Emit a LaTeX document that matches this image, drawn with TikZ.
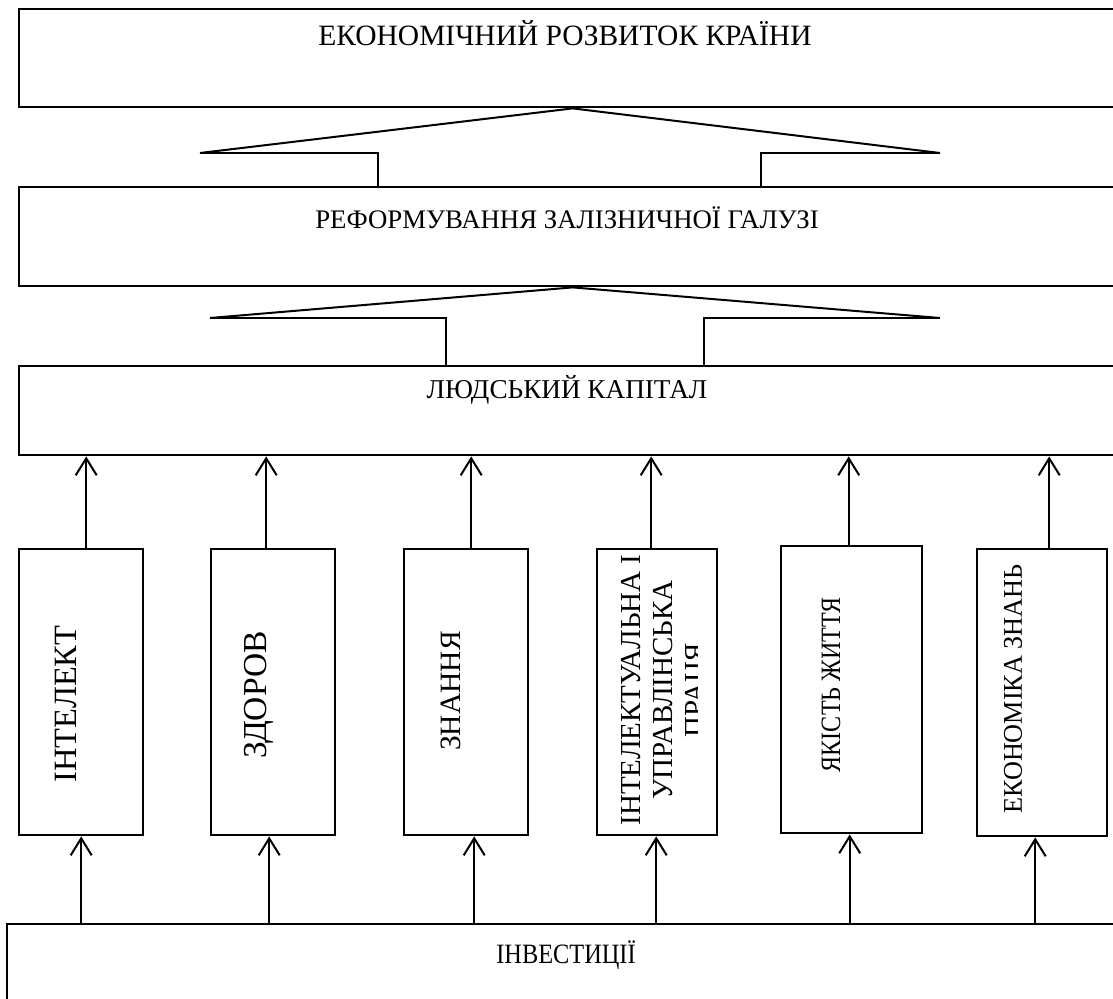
\documentclass[tikz,border=0pt]{standalone}
\usepackage{fontspec}
\usepackage{graphicx}
\setmainfont{Liberation Serif}
\usetikzlibrary{arrows.meta}
\newcommand{\fs}[1]{\fontsize{#1}{31}\selectfont}
\begin{document}
\begin{tikzpicture}[x=1pt,y=-1pt,
 box/.style={draw,line width=2.4pt,rectangle,inner sep=0pt,anchor=north west},
 lbl/.style={font=\fs{24},inner sep=0pt},
 vlbl/.style={lbl,rotate=90},
 conn/.style={line width=2pt},
 arr/.style={line width=2pt,-{Straight Barb[length=17pt,width=21pt,line width=2pt]}}]
\useasboundingbox (0,0) rectangle (1113,998);
\clip (0,0) rectangle (1113,998);
% boxes
\node[box,minimum width=1107pt,minimum height=98pt] (eco) at (18,8) {};
\node[box,minimum width=1107pt,minimum height=99pt] (ref) at (18,186) {};
\node[box,minimum width=1107pt,minimum height=89pt] (hc) at (18,365) {};
\node[box,minimum width=124pt,minimum height=286pt] (c1) at (18,548) {};
\node[box,minimum width=124pt,minimum height=286pt] (c2) at (210,548) {};
\node[box,minimum width=124pt,minimum height=286pt] (c3) at (403,548) {};
\node[box,minimum width=120pt,minimum height=286pt] (c4) at (596,548) {};
\node[box,minimum width=141pt,minimum height=287pt] (c5) at (780,545) {};
\node[box,minimum width=130pt,minimum height=287pt] (c6) at (976,548) {};
\node[box,minimum width=1120pt,minimum height=90pt] (inv) at (6,923) {};
% labels
\node[lbl,font=\fs{29.5}] (ecot) at (565,33) {ЕКОНОМІЧНИЙ РОЗВИТОК КРАЇНИ};
\node[lbl,font=\fs{26.8}] (reft) at (567,218) {РЕФОРМУВАННЯ ЗАЛІЗНИЧНОЇ ГАЛУЗІ};
\node[lbl,font=\fs{27.2}] (hct) at (567,390) {ЛЮДСЬКИЙ КАПІТАЛ};
\node[lbl,font=\fs{28}] (invt) at (566,955) {\scalebox{0.87}[1]{ІНВЕСТИЦІЇ}};
\node[vlbl,font=\fs{32.5}] (c1t) at (66,704) {ІНТЕЛЕКТ};
\node[vlbl,font=\fs{33.5}] (c2t) at (259,695) {ЗДОРОВ};
\node[vlbl,font=\fs{29.5}] (c3t) at (451,691) {ЗНАННЯ};
\begin{scope}
\clip (596,548) rectangle (697,834);
\node[vlbl,font=\fontsize{29}{32}\selectfont,align=center] (c4t) at (666,690) {ІНТЕЛЕКТУАЛЬНА І\\УПРАВЛІНСЬКА\\ПРАЦЯ};
\end{scope}
\node[vlbl,font=\fs{28}] (c5t) at (831,685) {\scalebox{0.86}[1]{ЯКІСТЬ ЖИТТЯ}};
\node[vlbl,font=\fs{27}] (c6t) at (1013,689) {\scalebox{0.97}[1]{ЕКОНОМІКА ЗНАНЬ}};
% upper connectors
\coordinate (t1l) at (200,153);
\coordinate (t1r) at (940,153);
\coordinate (t1lc) at (378,153);
\coordinate (t1rc) at (761,153);
\draw[conn] (t1l) -- (eco.south) -- (t1r);
\draw[conn] (t1l) -- (t1lc) -- (t1lc |- ref.north);
\draw[conn] (t1r) -- (t1rc) -- (t1rc |- ref.north);
\coordinate (t2l) at (210,318);
\coordinate (t2r) at (940,318);
\coordinate (t2lc) at (446,318);
\coordinate (t2rc) at (704,318);
\draw[conn] (t2l) -- (ref.south) -- (t2r);
\draw[conn] (t2l) -- (t2lc) -- (t2lc |- hc.north);
\draw[conn] (t2r) -- (t2rc) -- (t2rc |- hc.north);
% arrows to human capital
\draw[arr] ([xshift=5pt]c1.north) -- ([xshift=5pt]c1.north |- hc.south);
\draw[arr] ([xshift=-7pt]c2.north) -- ([xshift=-7pt]c2.north |- hc.south);
\draw[arr] ([xshift=5pt]c3.north) -- ([xshift=5pt]c3.north |- hc.south);
\draw[arr] ([xshift=-6pt]c4.north) -- ([xshift=-6pt]c4.north |- hc.south);
\draw[arr] ([xshift=-3pt]c5.north) -- ([xshift=-3pt]c5.north |- hc.south);
\draw[arr] ([xshift=7pt]c6.north) -- ([xshift=7pt]c6.north |- hc.south);
% arrows from investments
\draw[arr] (c1.south |- inv.north) -- (c1.south);
\draw[arr] ([xshift=-4pt]c2.south |- inv.north) -- ([xshift=-4pt]c2.south);
\draw[arr] ([xshift=8pt]c3.south |- inv.north) -- ([xshift=8pt]c3.south);
\draw[arr] ([xshift=-1pt]c4.south |- inv.north) -- ([xshift=-1pt]c4.south);
\draw[arr] ([xshift=-2pt]c5.south |- inv.north) -- ([xshift=-2pt]c5.south);
\draw[arr] ([xshift=-7pt]c6.south |- inv.north) -- ([xshift=-7pt]c6.south);
\end{tikzpicture}
\end{document}
